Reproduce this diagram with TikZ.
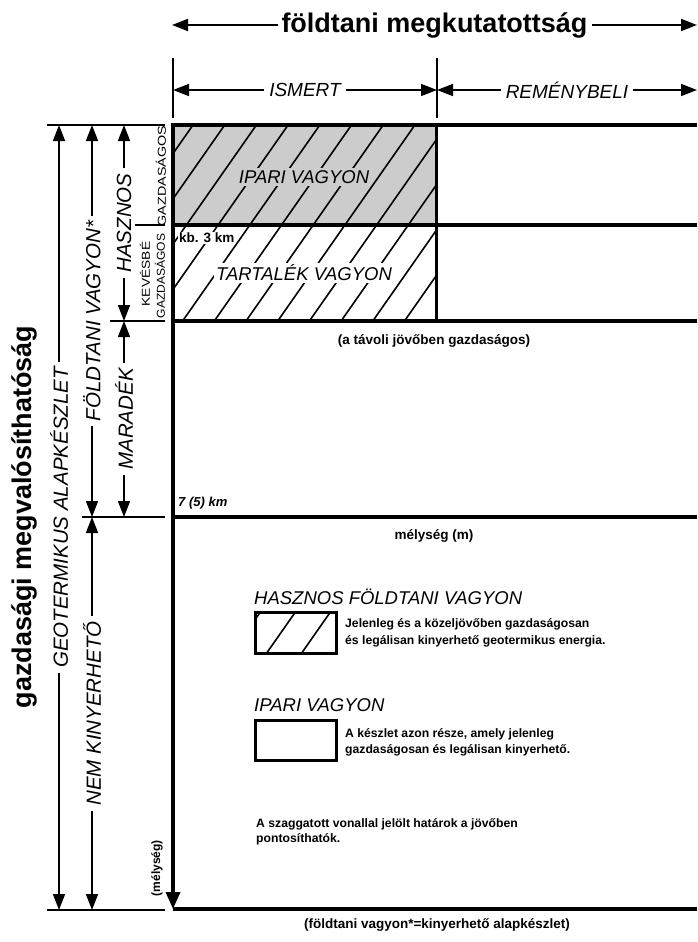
\documentclass[tikz,border=0pt]{standalone}
\usepackage{fontspec}
\setmainfont{Liberation Sans}
\usetikzlibrary{arrows.meta}
\definecolor{boxgray}{RGB}{204,204,204}
\begin{document}
\begin{tikzpicture}[x=1pt,y=-1pt,
  thickln/.style={line width=3.5pt},
  tickln/.style={line width=1.2pt},
  dimarrow/.style={line width=1.6pt,{Triangle[length=16pt,width=12pt]}-{Triangle[length=16pt,width=12pt]}},
  hatchln/.style={line width=1.6pt},
  vlabel/.style={font=\itshape\fontsize{20.5}{24}\selectfont, rotate=90, fill=white, inner xsep=5pt, inner ysep=1pt},
  hlabel/.style={font=\itshape\fontsize{19}{23}\selectfont, fill=white, inner xsep=5pt, inner ysep=1pt},
  boldsmall/.style={font=\bfseries\fontsize{13.5}{16}\selectfont, inner sep=0pt},
  smallcap/.style={font=\fontsize{11.5}{13}\selectfont, rotate=90, inner sep=0pt},
  legtitle/.style={font=\itshape\fontsize{18.5}{22}\selectfont, anchor=west, inner sep=0pt},
  legtext/.style={font=\bfseries\fontsize{12.2}{16}\selectfont, align=left, anchor=base west, inner sep=0pt},
]
\useasboundingbox (0,0) rectangle (697,942);

% ---- title arrow
\coordinate (tL) at (172,25);
\coordinate (tR) at (697,25);
\draw[dimarrow, line width=1.8pt] (tL) -- (tR)
  node[pos=0.5, fill=white, inner xsep=4pt, inner ysep=0pt, font=\bfseries\fontsize{27}{32}\selectfont] (title) at (438,26) {földtani megkutatottság};

% ---- ticks and ISMERT / REMÉNYBELI
\coordinate (k1t) at (173,58); \coordinate (k1b) at (173,118);
\coordinate (k2t) at (437,58); \coordinate (k2b) at (437,118);
\draw[line width=1.5pt] (k1t) -- (k1b);
\draw[line width=1.5pt] (k2t) -- (k2b);
\coordinate (iA) at (173,90); \coordinate (iB) at (437,90); \coordinate (iC) at (697,90);
\draw[dimarrow] (iA) -- (iB) node[midway, hlabel] (ismert) {ISMERT};
\draw[dimarrow] (iB) -- (iC) node[midway, hlabel] (remeny) {REMÉNYBELI};

% ---- boxes
\fill[boxgray] (172,125) rectangle (436,225);
\begin{scope}
  \clip (172,125) rectangle (436,321);
  \foreach \k in {0,...,13}
    \draw[hatchln] ({193+31.7*\k},125) -- ({193+31.7*\k-137.2},321);
\end{scope}
\node[font=\itshape\fontsize{18.5}{22}\selectfont, fill=boxgray, inner sep=2pt] (ipari) at (304,177) {IPARI VAGYON};
\node[font=\itshape\fontsize{18.5}{22}\selectfont, fill=white, inner sep=2pt] (tartalek) at (304,273) {TARTALÉK VAGYON};
\node[boldsmall, anchor=west, fill=white, inner sep=1pt] (kb) at (178,238) {kb. 3 km};

\draw[line width=3pt] (436,125) -- (436,321);
\draw[thickln] (171,125) -- (697,125);
\draw[thickln] (173,225) -- (697,225);
\draw[thickln] (173,321) -- (697,321);
\draw[thickln] (173,517) -- (697,517);
\draw[thickln] (173,909) -- (697,909);
\coordinate (mainTop) at (173,123);
\coordinate (mainBot) at (173,909);
\draw[thickln, -{Triangle[length=17pt,width=14pt]}] (mainTop) -- (mainBot);

\node[boldsmall] (tavoli) at (434,341) {(a távoli jövőben gazdaságos)};
\node[boldsmall, anchor=west, font=\bfseries\itshape\fontsize{13}{16}\selectfont] (seven) at (178,503) {7 (5) km};
\node[boldsmall] (melyseg) at (434,536) {mélység (m)};
\node[boldsmall, rotate=90, font=\bfseries\fontsize{12}{14}\selectfont] (melyseg2) at (157,868) {(mélység)};
\node[boldsmall] (footnote) at (437,925) {(földtani vagyon*=kinyerhető alapkészlet)};

% ---- left ticks
\coordinate (l0a) at (47,125);  \coordinate (l0b) at (165,125);
\coordinate (l1a) at (135,225); \coordinate (l1b) at (165,225);
\coordinate (l2a) at (110,321); \coordinate (l2b) at (165,321);
\coordinate (l3a) at (82,517);  \coordinate (l3b) at (165,517);
\coordinate (l4a) at (47,910);  \coordinate (l4b) at (165,910);
\draw[tickln] (l0a) -- (l0b);
\draw[tickln] (l1a) -- (l1b);
\draw[tickln] (l2a) -- (l2b);
\draw[tickln] (l3a) -- (l3b);
\draw[tickln] (l4a) -- (l4b);

% ---- left dimension arrows
\coordinate (g1) at (59,125); \coordinate (g2) at (59,910);
\draw[dimarrow] (g1) -- (g2) node[midway, vlabel] (geo) {GEOTERMIKUS ALAPKÉSZLET};
\coordinate (f1) at (92,125); \coordinate (f2) at (92,517); \coordinate (f3) at (92,910);
\draw[dimarrow] (f1) -- (f2) node[midway, vlabel] (foldt) {FÖLDTANI VAGYON*};
\draw[dimarrow] (f2) -- (f3) node[midway, vlabel] (nemk) {NEM KINYERHETŐ};
\coordinate (h1) at (124,125); \coordinate (h2) at (124,321); \coordinate (h3) at (124,517);
\draw[dimarrow] (h1) -- (h2) node[midway, vlabel] (hasznos) {HASZNOS};
\draw[dimarrow] (h2) -- (h3) node[midway, vlabel] (marad) {MARADÉK};

\node[rotate=90, inner sep=0pt, font=\bfseries\fontsize{27}{32}\selectfont] (gazd) at (24,517) {gazdasági megvalósíthatóság};

\node[smallcap] (gazd1) at (161,176) {\scalebox{1.25}[1]{GAZDASÁGOS}};
\node[smallcap] (kevesbe) at (145,274) {\scalebox{1.2}[1]{KEVÉSBÉ}};
\node[smallcap] (gazd2) at (160,276) {\scalebox{1.05}[1]{GAZDASÁGOS}};

% ---- legend
\node[legtitle] (lt1) at (254,597) {HASZNOS FÖLDTANI VAGYON};
\begin{scope}
  \clip (255,612) rectangle (336,653);
  \foreach \k in {0,...,3}
    \draw[hatchln] ({231.7+35*\k},653) -- ({231.7+35*\k+28.7},612);
\end{scope}
\node[draw, line width=3pt, minimum width=81pt, minimum height=41pt, inner sep=0pt] (legbox1) at (295.5,632.5) {};
\node[legtext] (lt1txt) at (345,644.5) {Jelenleg és a közeljövőben gazdaságosan\\[1.5pt]és legálisan kinyerhető geotermikus energia.};

\node[legtitle] (lt2) at (254,705) {IPARI VAGYON};
\node[draw, line width=3pt, minimum width=81pt, minimum height=40pt, inner sep=0pt] (legbox2) at (295.5,740) {};
\node[legtext] (lt2txt) at (345,753.5) {A készlet azon része, amely jelenleg\\gazdaságosan és legálisan kinyerhető.};

\node[legtext, font=\bfseries\fontsize{12.2}{15}\selectfont] (note) at (256,842) {A szaggatott vonallal jelölt határok a jövőben\\pontosíthatók.};
\end{tikzpicture}
\end{document}
